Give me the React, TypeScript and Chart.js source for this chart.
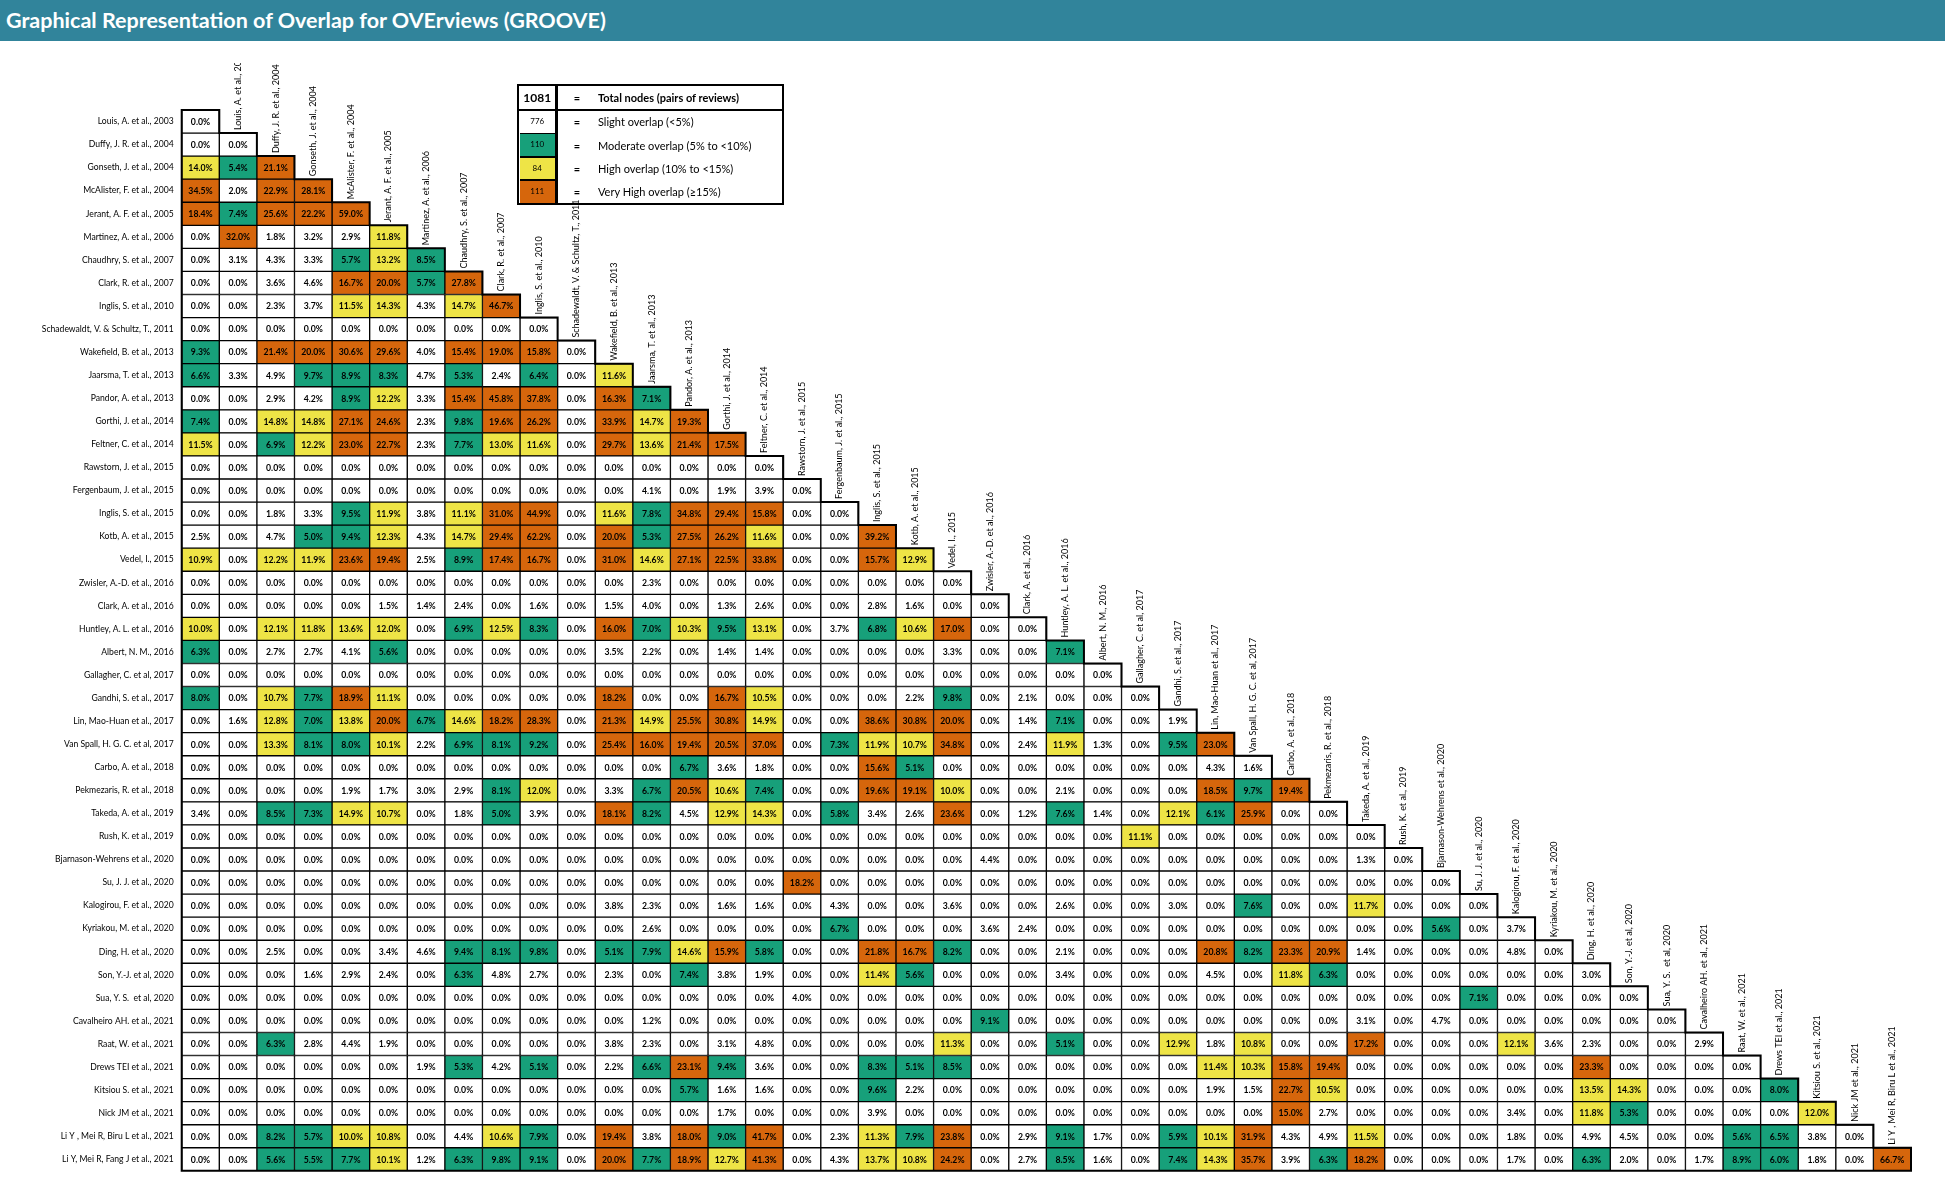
import React, { useEffect, useRef } from "react";
import { Chart, registerables } from "chart.js";

Chart.register(...registerables);

const titleText = "Graphical Representation of Overlap for OVErviews (GROOVE)";

const reviews = [
  "Louis, A. et al., 2003",
  "Duffy, J. R. et al., 2004",
  "Gonseth, J. et al., 2004",
  "McAlister, F. et al., 2004",
  "Jerant, A. F. et al., 2005",
  "Martinez, A. et al., 2006",
  "Chaudhry, S. et al., 2007",
  "Clark, R. et al., 2007",
  "Inglis, S. et al., 2010",
  "Schadewaldt, V. & Schultz, T., 2011",
  "Wakefield, B. et al., 2013",
  "Jaarsma, T. et al., 2013",
  "Pandor, A. et al., 2013",
  "Gorthi, J. et al., 2014",
  "Feltner, C. et al., 2014",
  "Rawstorn, J. et al., 2015",
  "Fergenbaum, J. et al., 2015",
  "Inglis, S. et al., 2015",
  "Kotb, A. et al., 2015",
  "Vedel, I., 2015",
  "Zwisler, A.-D. et al., 2016",
  "Clark, A. et al., 2016",
  "Huntley, A. L. et al., 2016",
  "Albert, N. M., 2016",
  "Gallagher, C. et al, 2017",
  "Gandhi, S. et al., 2017",
  "Lin, Mao-Huan et al., 2017",
  "Van Spall, H. G. C. et al, 2017",
  "Carbo, A. et al., 2018",
  "Pekmezaris, R. et al., 2018",
  "Takeda, A. et al., 2019",
  "Rush, K. et al., 2019",
  "Bjarnason-Wehrens et al., 2020",
  "Su, J. J. et al., 2020",
  "Kalogirou, F. et al., 2020",
  "Kyriakou, M. et al., 2020",
  "Ding, H. et al., 2020",
  "Son, Y.-J. et al, 2020",
  "Sua, Y. S.  et al, 2020",
  "Cavalheiro AH. et al., 2021",
  "Raat, W. et al., 2021",
  "Drews TEI et al., 2021",
  "Kitsiou S. et al., 2021",
  "Nick JM et al., 2021",
  "Li Y , Mei R, Biru L et al., 2021",
  "Li Y, Mei R, Fang J et al., 2021",
];

// Overlap (%) per row, columns 1..row
const r01 = [0.0];
const r02 = [0.0, 0.0];
const r03 = [14.0, 5.4, 21.1];
const r04 = [34.5, 2.0, 22.9, 28.1];
const r05 = [18.4, 7.4, 25.6, 22.2, 59.0];
const r06 = [0.0, 32.0, 1.8, 3.2, 2.9, 11.8];
const r07 = [0.0, 3.1, 4.3, 3.3, 5.7, 13.2, 8.5];
const r08 = [0.0, 0.0, 3.6, 4.6, 16.7, 20.0, 5.7, 27.8];
const r09 = [0.0, 0.0, 2.3, 3.7, 11.5, 14.3, 4.3, 14.7, 46.7];
const r10 = [0, 0, 0, 0, 0, 0, 0, 0, 0, 0];
const r11 = [9.3, 0.0, 21.4, 20.0, 30.6, 29.6, 4.0, 15.4, 19.0, 15.8, 0.0];
const r12 = [6.6, 3.3, 4.9, 9.7, 8.9, 8.3, 4.7, 5.3, 2.4, 6.4, 0.0, 11.6];
const r13 = [0.0, 0.0, 2.9, 4.2, 8.9, 12.2, 3.3, 15.4, 45.8, 37.8, 0.0, 16.3, 7.1];
const r14 = [7.4, 0.0, 14.8, 14.8, 27.1, 24.6, 2.3, 9.8, 19.6, 26.2, 0.0, 33.9, 14.7, 19.3];
const r15 = [11.5, 0.0, 6.9, 12.2, 23.0, 22.7, 2.3, 7.7, 13.0, 11.6, 0.0, 29.7, 13.6, 21.4, 17.5];
const r16 = [0, 0, 0, 0, 0, 0, 0, 0, 0, 0, 0, 0, 0, 0, 0, 0];
const r17 = [0, 0, 0, 0, 0, 0, 0, 0, 0, 0, 0, 0, 4.1, 0.0, 1.9, 3.9, 0.0];
const r18 = [0.0, 0.0, 1.8, 3.3, 9.5, 11.9, 3.8, 11.1, 31.0, 44.9, 0.0, 11.6, 7.8, 34.8, 29.4, 15.8, 0.0, 0.0];
const r19 = [2.5, 0.0, 4.7, 5.0, 9.4, 12.3, 4.3, 14.7, 29.4, 62.2, 0.0, 20.0, 5.3, 27.5, 26.2, 11.6, 0.0, 0.0, 39.2];
const r20 = [10.9, 0.0, 12.2, 11.9, 23.6, 19.4, 2.5, 8.9, 17.4, 16.7, 0.0, 31.0, 14.6, 27.1, 22.5, 33.8, 0.0, 0.0, 15.7, 12.9];
const r21 = [0, 0, 0, 0, 0, 0, 0, 0, 0, 0, 0, 0, 2.3, 0, 0, 0, 0, 0, 0, 0, 0];
const r22 = [0.0, 0.0, 0.0, 0.0, 0.0, 1.5, 1.4, 2.4, 0.0, 1.6, 0.0, 1.5, 4.0, 0.0, 1.3, 2.6, 0.0, 0.0, 2.8, 1.6, 0.0, 0.0];
const r23 = [10.0, 0.0, 12.1, 11.8, 13.6, 12.0, 0.0, 6.9, 12.5, 8.3, 0.0, 16.0, 7.0, 10.3, 9.5, 13.1, 0.0, 3.7, 6.8, 10.6, 17.0, 0.0, 0.0];
const r24 = [6.3, 0.0, 2.7, 2.7, 4.1, 5.6, 0.0, 0.0, 0.0, 0.0, 0.0, 3.5, 2.2, 0.0, 1.4, 1.4, 0.0, 0.0, 0.0, 0.0, 3.3, 0.0, 0.0, 7.1];
const r25 = [0, 0, 0, 0, 0, 0, 0, 0, 0, 0, 0, 0, 0, 0, 0, 0, 0, 0, 0, 0, 0, 0, 0, 0, 0];
const r26 = [8.0, 0.0, 10.7, 7.7, 18.9, 11.1, 0.0, 0.0, 0.0, 0.0, 0.0, 18.2, 0.0, 0.0, 16.7, 10.5, 0.0, 0.0, 0.0, 2.2, 9.8, 0.0, 2.1, 0.0, 0.0, 0.0];
const r27 = [0.0, 1.6, 12.8, 7.0, 13.8, 20.0, 6.7, 14.6, 18.2, 28.3, 0.0, 21.3, 14.9, 25.5, 30.8, 14.9, 0.0, 0.0, 38.6, 30.8, 20.0, 0.0, 1.4, 7.1, 0.0, 0.0, 1.9];
const r28 = [0.0, 0.0, 13.3, 8.1, 8.0, 10.1, 2.2, 6.9, 8.1, 9.2, 0.0, 25.4, 16.0, 19.4, 20.5, 37.0, 0.0, 7.3, 11.9, 10.7, 34.8, 0.0, 2.4, 11.9, 1.3, 0.0, 9.5, 23.0];
const r29 = [0, 0, 0, 0, 0, 0, 0, 0, 0, 0, 0, 0, 0.0, 6.7, 3.6, 1.8, 0.0, 0.0, 15.6, 5.1, 0.0, 0.0, 0.0, 0.0, 0.0, 0.0, 0.0, 4.3, 1.6];
const r30 = [0.0, 0.0, 0.0, 0.0, 1.9, 1.7, 3.0, 2.9, 8.1, 12.0, 0.0, 3.3, 6.7, 20.5, 10.6, 7.4, 0.0, 0.0, 19.6, 19.1, 10.0, 0.0, 0.0, 2.1, 0.0, 0.0, 0.0, 18.5, 9.7, 19.4];
const r31 = [3.4, 0.0, 8.5, 7.3, 14.9, 10.7, 0.0, 1.8, 5.0, 3.9, 0.0, 18.1, 8.2, 4.5, 12.9, 14.3, 0.0, 5.8, 3.4, 2.6, 23.6, 0.0, 1.2, 7.6, 1.4, 0.0, 12.1, 6.1, 25.9, 0.0, 0.0];
const r32 = [0, 0, 0, 0, 0, 0, 0, 0, 0, 0, 0, 0, 0, 0, 0, 0, 0, 0, 0, 0, 0, 0, 0, 0, 0, 11.1, 0, 0, 0, 0, 0, 0];
const r33 = [0, 0, 0, 0, 0, 0, 0, 0, 0, 0, 0, 0, 0, 0, 0, 0, 0, 0, 0, 0, 0, 4.4, 0, 0, 0, 0, 0, 0, 0, 0, 0, 1.3, 0];
const r34 = [0, 0, 0, 0, 0, 0, 0, 0, 0, 0, 0, 0, 0, 0, 0, 0, 18.2, 0, 0, 0, 0, 0, 0, 0, 0, 0, 0, 0, 0, 0, 0, 0, 0, 0];
const r35 = [0, 0, 0, 0, 0, 0, 0, 0, 0, 0, 0, 3.8, 2.3, 0.0, 1.6, 1.6, 0.0, 4.3, 0.0, 0.0, 3.6, 0.0, 0.0, 2.6, 0.0, 0.0, 3.0, 0.0, 7.6, 0.0, 0.0, 11.7, 0.0, 0.0, 0.0];
const r36 = [0, 0, 0, 0, 0, 0, 0, 0, 0, 0, 0, 0, 2.6, 0.0, 0.0, 0.0, 0.0, 6.7, 0.0, 0.0, 0.0, 3.6, 2.4, 0.0, 0, 0, 0, 0, 0, 0, 0, 0, 0, 5.6, 0.0, 3.7];
const r37 = [0.0, 0.0, 2.5, 0.0, 0.0, 3.4, 4.6, 9.4, 8.1, 9.8, 0.0, 5.1, 7.9, 14.6, 15.9, 5.8, 0.0, 0.0, 21.8, 16.7, 8.2, 0.0, 0.0, 2.1, 0.0, 0.0, 0.0, 20.8, 8.2, 23.3, 20.9, 1.4, 0.0, 0.0, 0.0, 4.8, 0.0];
const r38 = [0.0, 0.0, 0.0, 1.6, 2.9, 2.4, 0.0, 6.3, 4.8, 2.7, 0.0, 2.3, 0.0, 7.4, 3.8, 1.9, 0.0, 0.0, 11.4, 5.6, 0.0, 0.0, 0.0, 3.4, 0.0, 0.0, 0.0, 4.5, 0.0, 11.8, 6.3, 0.0, 0.0, 0.0, 0.0, 0.0, 0.0, 3.0];
const r39 = [0, 0, 0, 0, 0, 0, 0, 0, 0, 0, 0, 0, 0, 0, 0, 0, 4.0, 0, 0, 0, 0, 0, 0, 0, 0, 0, 0, 0, 0, 0, 0, 0, 0, 0, 7.1, 0, 0, 0, 0];
const r40 = [0, 0, 0, 0, 0, 0, 0, 0, 0, 0, 0, 0, 1.2, 0, 0, 0, 0, 0, 0, 0, 0, 9.1, 0, 0, 0, 0, 0, 0, 0, 0, 0, 3.1, 0, 4.7, 0, 0, 0, 0, 0, 0];
const r41 = [0.0, 0.0, 6.3, 2.8, 4.4, 1.9, 0.0, 0.0, 0.0, 0.0, 0.0, 3.8, 2.3, 0.0, 3.1, 4.8, 0.0, 0.0, 0.0, 0.0, 11.3, 0.0, 0.0, 5.1, 0.0, 0.0, 12.9, 1.8, 10.8, 0.0, 0.0, 17.2, 0.0, 0.0, 0.0, 12.1, 3.6, 2.3, 0.0, 0.0, 2.9];
const r42 = [0, 0, 0, 0, 0, 0, 1.9, 5.3, 4.2, 5.1, 0.0, 2.2, 6.6, 23.1, 9.4, 3.6, 0.0, 0.0, 8.3, 5.1, 8.5, 0.0, 0.0, 0.0, 0.0, 0.0, 0.0, 11.4, 10.3, 15.8, 19.4, 0.0, 0.0, 0.0, 0.0, 0.0, 0.0, 23.3, 0.0, 0.0, 0.0, 0.0];
const r43 = [0, 0, 0, 0, 0, 0, 0, 0, 0, 0, 0, 0, 0.0, 5.7, 1.6, 1.6, 0.0, 0.0, 9.6, 2.2, 0.0, 0.0, 0.0, 0.0, 0.0, 0.0, 0.0, 1.9, 1.5, 22.7, 10.5, 0.0, 0.0, 0.0, 0.0, 0.0, 0.0, 13.5, 14.3, 0.0, 0.0, 0.0, 8.0];
const r44 = [0, 0, 0, 0, 0, 0, 0, 0, 0, 0, 0, 0, 0.0, 0.0, 1.7, 0.0, 0.0, 0.0, 3.9, 0.0, 0.0, 0.0, 0.0, 0.0, 0.0, 0.0, 0.0, 0.0, 0.0, 15.0, 2.7, 0.0, 0.0, 0.0, 0.0, 3.4, 0.0, 11.8, 5.3, 0.0, 0.0, 0.0, 0.0, 12.0];
const r45 = [0.0, 0.0, 8.2, 5.7, 10.0, 10.8, 0.0, 4.4, 10.6, 7.9, 0.0, 19.4, 3.8, 18.0, 9.0, 41.7, 0.0, 2.3, 11.3, 7.9, 23.8, 0.0, 2.9, 9.1, 1.7, 0.0, 5.9, 10.1, 31.9, 4.3, 4.9, 11.5, 0.0, 0.0, 0.0, 1.8, 0.0, 4.9, 4.5, 0.0, 0.0, 5.6, 6.5, 3.8, 0.0];
const r46 = [0.0, 0.0, 5.6, 5.5, 7.7, 10.1, 1.2, 6.3, 9.8, 9.1, 0.0, 20.0, 7.7, 18.9, 12.7, 41.3, 0.0, 4.3, 13.7, 10.8, 24.2, 0.0, 2.7, 8.5, 1.6, 0.0, 7.4, 14.3, 35.7, 3.9, 6.3, 18.2, 0.0, 0.0, 0.0, 1.7, 0.0, 6.3, 2.0, 0.0, 1.7, 8.9, 6.0, 1.8, 0.0, 66.7];

const overlapRows: number[][] = [
  r01, r02, r03, r04, r05, r06, r07, r08, r09, r10,
  r11, r12, r13, r14, r15, r16, r17, r18, r19, r20,
  r21, r22, r23, r24, r25, r26, r27, r28, r29, r30,
  r31, r32, r33, r34, r35, r36, r37, r38, r39, r40,
  r41, r42, r43, r44, r45, r46,
];

const totalNodes = 1081;
const totalLabel = "Total nodes (pairs of reviews)";
const legendCounts = [776, 110, 84, 111];
const legendLabels = [
  "Slight overlap (<5%)",
  "Moderate overlap (5% to <10%)",
  "High overlap (10% to <15%)",
  "Very High overlap (\u226515%)",
];

const TEAL = "#31849B";
const WHITE = "#FFFFFF";
const GREEN = "#17A07A";
const YELLOW = "#EEE446";
const ORANGE = "#D6660C";
const legendColors = [WHITE, GREEN, YELLOW, ORANGE];
const FONT = "Lato, 'DejaVu Sans', sans-serif";

function colorFor(v: number) {
  if (v >= 15) return ORANGE;
  if (v >= 10) return YELLOW;
  if (v >= 5) return GREEN;
  return WHITE;
}

const N = reviews.length;

const cellLabels = {
  id: "cellLabels",
  afterDatasetsDraw(chart: any) {
    const ctx = chart.ctx;
    ctx.save();
    ctx.font = `bold 8.7px ${FONT}`;
    ctx.fillStyle = "#000";
    ctx.textAlign = "center";
    ctx.textBaseline = "middle";
    chart.data.datasets.forEach((_ds: any, c: number) => {
      const meta = chart.getDatasetMeta(c);
      meta.data.forEach((el: any, r: number) => {
        const v = overlapRows[r][c];
        if (v === undefined) return;
        const p = el.getProps(["x", "y", "base"], true);
        ctx.fillText(v.toFixed(1) + "%", (p.x + p.base) / 2, p.y + 0.5);
      });
    });
    ctx.restore();
  },
};

const headersAndOutline = {
  id: "headersAndOutline",
  afterDraw(chart: any) {
    const ctx = chart.ctx;
    const xs = chart.scales.x;
    const ys = chart.scales.y;
    const rowH = (ys.bottom - ys.top) / N;
    // staircase outline
    ctx.save();
    ctx.strokeStyle = "#000";
    ctx.lineWidth = 2;
    ctx.beginPath();
    const xL = xs.getPixelForValue(0.5);
    ctx.moveTo(xL, ys.getPixelForValue(0) - rowH / 2);
    for (let r = 0; r < N; r++) {
      const xr = xs.getPixelForValue(r + 1.5);
      const yt = ys.getPixelForValue(r) - rowH / 2;
      ctx.lineTo(xr, yt);
      ctx.lineTo(xr, yt + rowH);
    }
    ctx.lineTo(xL, ys.getPixelForValue(N - 1) + rowH / 2);
    ctx.closePath();
    ctx.stroke();
    ctx.restore();

    // column headers (rotated)
    ctx.save();
    ctx.beginPath();
    ctx.rect(0, 63, chart.width, chart.height);
    ctx.clip();
    ctx.font = `9px ${FONT}`;
    ctx.fillStyle = "#000";
    ctx.textAlign = "left";
    ctx.textBaseline = "middle";
    for (let c = 1; c < N; c++) {
      const x = xs.getPixelForValue(c + 1);
      const yTop = ys.getPixelForValue(c) - rowH / 2;
      ctx.save();
      ctx.translate(x, yTop - 3);
      ctx.rotate(-Math.PI / 2);
      ctx.fillText(reviews[c - 1], 0, 0);
      ctx.restore();
    }
    ctx.restore();
  },
};

function Legend() {
  const abs = (s: any) => ({ position: "absolute" as const, ...s });
  const rowCenters = [122, 146, 169, 192];
  return (
    <>
      {/* row 1 box */}
      <div style={abs({ left: 517, top: 84, width: 267, height: 27, border: "2.5px solid #000", boxSizing: "border-box" })} />
      {/* rows 2-5 box */}
      <div style={abs({ left: 517, top: 108.5, width: 267, height: 96, border: "2.5px solid #000", boxSizing: "border-box" })} />
      {/* number column divider */}
      <div style={abs({ left: 555, top: 84, width: 3, height: 120.5, background: "#000" })} />
      <div style={abs({ left: 519.5, top: 86.5, width: 35.5, height: 22, font: `bold 12px ${FONT}`, lineHeight: "22px", textAlign: "center", color: "#000" })}>{totalNodes}</div>
      <div style={abs({ left: 570, top: 86.5, width: 14, height: 22, font: `bold 11px ${FONT}`, lineHeight: "22px", textAlign: "center" })}>=</div>
      <div style={abs({ left: 598, top: 86.5, height: 22, font: `bold 11px ${FONT}`, lineHeight: "22px", whiteSpace: "nowrap" })}>{totalLabel}</div>
      {legendCounts.map((cnt, i) => {
        const top = 111 + i * 23.4;
        return (
          <React.Fragment key={i}>
            <div style={abs({ left: 519.5, top, width: 35.5, height: 21.6, background: legendColors[i], font: `8px ${FONT}`, lineHeight: "21.6px", textAlign: "center", color: "#000" })}>{cnt}</div>
            {i < 3 && <div style={abs({ left: 519.5, top: top + 21.6, width: 35.5, height: 1.8, background: "#000" })} />}
            <div style={abs({ left: 570, top: rowCenters[i] - 11, width: 14, height: 22, font: `bold 11px ${FONT}`, lineHeight: "22px", textAlign: "center" })}>=</div>
            <div style={abs({ left: 598, top: rowCenters[i] - 11, height: 22, font: `11px ${FONT}`, lineHeight: "22px", whiteSpace: "nowrap" })}>{legendLabels[i]}</div>
          </React.Fragment>
        );
      })}
    </>
  );
}

export default function App() {
  const ref = useRef<HTMLCanvasElement>(null);
  useEffect(() => {
    const canvas = ref.current;
    if (!canvas) return;
    const datasets = Array.from({ length: N }, (_, c) => ({
      label: "col " + (c + 1),
      data: reviews.map((_n, r) => (c <= r ? [c + 0.5, c + 1.5] : null)),
      backgroundColor: (ctx: any) => {
        const v = overlapRows[ctx.dataIndex]?.[c];
        return v === undefined ? "rgba(0,0,0,0)" : colorFor(v);
      },
      borderColor: "#000",
      borderWidth: 1,
      borderSkipped: false,
      barPercentage: 1,
      categoryPercentage: 1,
      grouped: false,
    }));
    const chart = new Chart(canvas, {
      type: "bar",
      data: { labels: reviews, datasets: datasets as any },
      options: {
        indexAxis: "y",
        animation: false,
        responsive: false,
        maintainAspectRatio: false,
        layout: { padding: { left: 0, top: 110, right: 34, bottom: 1 } },
        plugins: { legend: { display: false }, tooltip: { enabled: false }, title: { display: false } },
        scales: {
          x: { type: "linear", min: 0.5, max: N + 0.5, display: false },
          y: {
            type: "category",
            grid: { display: false, drawTicks: false },
            border: { display: false },
            ticks: { autoSkip: false, color: "#000", padding: 8, font: { family: FONT, size: 8.6 } },
            afterFit: (scale: any) => {
              scale.width = 181.7;
            },
          },
        },
      } as any,
      plugins: [cellLabels, headersAndOutline],
    });
    return () => chart.destroy();
  }, []);

  return (
    <div style={{ position: "absolute", left: 0, top: 0, width: 1945, height: 1184, background: "#fff", overflow: "hidden" }}>
      <canvas ref={ref} width={1945} height={1184} style={{ position: "absolute", left: 0, top: 0, width: 1945, height: 1184 }} />
      <div
        style={{
          position: "absolute",
          left: 0,
          top: 0,
          width: 1945,
          height: 41,
          background: TEAL,
          color: "#fff",
          font: `bold 21.5px ${FONT}`,
          lineHeight: "41px",
          paddingLeft: 6,
          boxSizing: "border-box",
          whiteSpace: "nowrap",
        }}
      >
        {titleText}
      </div>
      <Legend />
    </div>
  );
}
